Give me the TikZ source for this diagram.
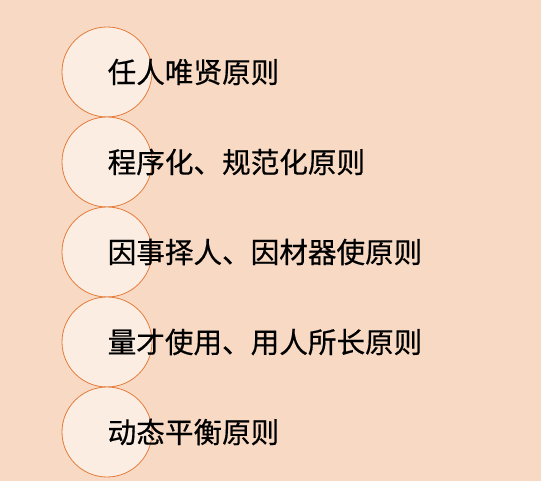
\documentclass[tikz,border=0pt]{standalone}
\usepackage{fontspec}
\newfontfamily\cjk[FakeBold=0.5]{Noto Sans CJK SC}
\definecolor{bgpeach}{HTML}{F8DAC4}
\definecolor{circfill}{HTML}{FBEDE2}
\definecolor{circline}{HTML}{E57B3A}
\begin{document}
\begin{tikzpicture}[x=1pt,y=-1pt,
  ring/.style={circle,draw=circline,line width=0.8pt,fill=circfill,minimum size=90pt,inner sep=0pt},
  lbl/.style={anchor=west,inner sep=0pt,font=\cjk\fontsize{28.6}{30}\selectfont,text=black}]
\fill[bgpeach] (0,0) rectangle (541,481);
\useasboundingbox (0,0) rectangle (541,481);
\foreach \i in {1,...,5}{
  \node[ring] (c\i) at (107,{72+90*(\i-1)}) {};
}
\node[lbl] (t1) at (107.5,72) {任人唯贤原则};
\node[lbl] (t2) at (107.5,162) {程序化、规范化原则};
\node[lbl] (t3) at (107.5,252) {因事择人、因材器使原则};
\node[lbl] (t4) at (107.5,342) {量才使用、用人所长原则};
\node[lbl] (t5) at (107.5,432) {动态平衡原则};
\end{tikzpicture}
\end{document}
